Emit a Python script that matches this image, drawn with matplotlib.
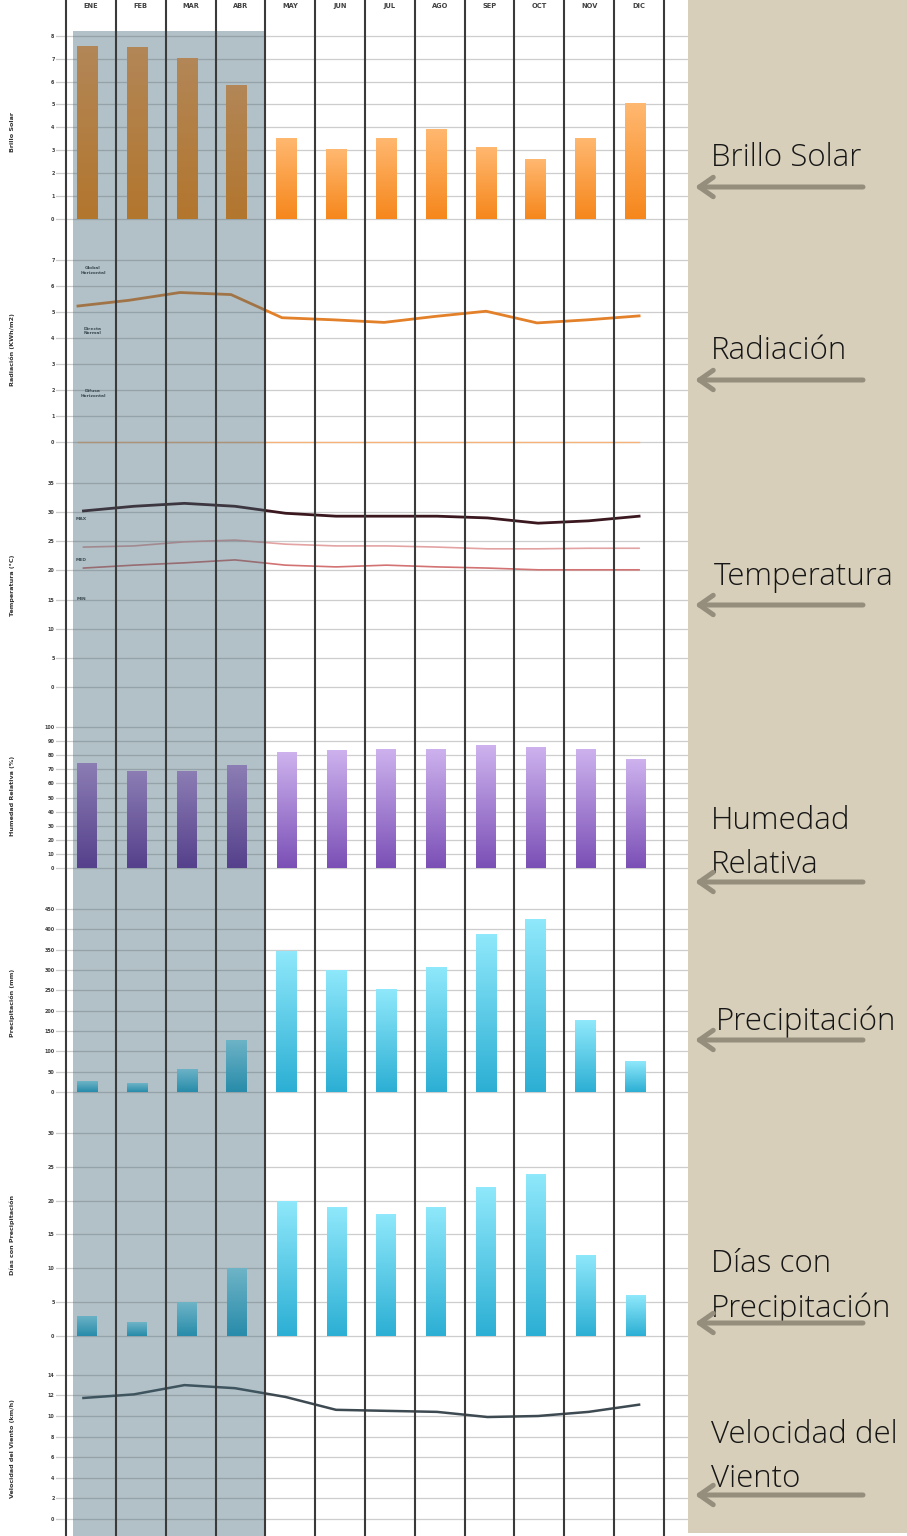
#Climograma mensual con paneles apilados y etiquetas a la derecha
import numpy as np
import matplotlib.pyplot as plt
from matplotlib.colors import LinearSegmentedColormap
from matplotlib.patches import Rectangle

W, H = 907, 1536

#datos
meses = ['ENE', 'FEB', 'MAR', 'ABR', 'MAY', 'JUN', 'JUL', 'AGO', 'SEP', 'OCT', 'NOV', 'DIC']
brillo = [7.55, 7.5, 7.05, 5.85, 3.55, 3.05, 3.55, 3.95, 3.15, 2.6, 3.55, 5.05]
rad_global = [5.23, 5.45, 5.75, 5.67, 4.78, 4.70, 4.60, 4.83, 5.03, 4.58, 4.70, 4.85]
rad_difusa = [0, 0, 0, 0, 0, 0, 0, 0, 0, 0, 0, 0]
t_max = [30.2, 31.0, 31.5, 31.0, 29.8, 29.3, 29.3, 29.3, 29.0, 28.1, 28.5, 29.3]
t_med = [24.0, 24.2, 24.9, 25.2, 24.5, 24.2, 24.2, 24.0, 23.7, 23.7, 23.8, 23.8]
t_min = [20.4, 20.9, 21.3, 21.8, 20.9, 20.6, 20.9, 20.6, 20.4, 20.1, 20.1, 20.1]
humedad = [74.5, 69, 69, 73, 82, 84, 84.5, 84.5, 87, 86, 84.5, 77]
precip = [27, 22, 57, 128, 347, 300, 253, 307, 388, 425, 177, 76]
dias = [3, 2, 5, 10, 20, 19, 18, 19, 22, 24, 12, 6]
viento = [11.75, 12.1, 13.0, 12.7, 11.85, 10.6, 10.5, 10.4, 9.9, 10.0, 10.4, 11.1]

etiquetas = ['Brillo Solar', 'Radiación', 'Temperatura', 'Humedad\nRelativa',
             'Precipitación', 'Días con\nPrecipitación', 'Velocidad del\nViento']

x = np.arange(12)
x_lin = np.linspace(-0.15, 11.0, 12)
x_rad = np.linspace(-0.26, 11.0, 12)
xb = x - 0.07
seca = 4  # meses sombreados (ENE-ABR)

COLW = 49.83
XL, XR = 56, 688
xlim = (-0.5 - (66 - XL) / COLW, 11.5 + (XR - 664) / COLW)

fig = plt.figure(figsize=(W / 100, H / 100), dpi=100)
fig.patch.set_facecolor('white')


def panel(top, bot, zero, ppu, ticks, label):
    ax = fig.add_axes([XL / W, 1 - bot / H, (XR - XL) / W, (bot - top) / H])
    ax.set_facecolor('none')
    ax.set_xlim(*xlim)
    ax.set_ylim((zero - bot) / ppu, (zero - top) / ppu)
    for s in ax.spines.values():
        s.set_visible(False)
    ax.set_xticks([])
    ax.set_yticks(ticks)
    ax.tick_params(axis='y', length=0, pad=1, labelsize=3.5, labelcolor='#404040')
    for t in ax.get_yticklabels():
        t.set_fontweight('bold')
    ax.grid(axis='y', color='#CDCDCD', lw=0.9)
    ax.set_axisbelow(True)
    ax.set_ylabel(label, fontsize=4.6, fontweight='bold', color='#333333')
    ax.yaxis.set_label_coords((15 - XL) / (XR - XL), 0.5)
    return ax


def grad_bars(ax, vals, col_humeda, col_seca, w=0.42):
    bars = ax.bar(xb, vals, width=w, color=col_humeda[1], zorder=2)
    lims = (ax.get_xlim(), ax.get_ylim())
    for i, b in enumerate(bars):
        c_top, c_bot = col_seca if i < seca else col_humeda
        cmap = LinearSegmentedColormap.from_list('g', [c_bot, c_top])
        bx, by = b.get_xy()
        im = ax.imshow(np.linspace(0, 1, 100).reshape(-1, 1), cmap=cmap, origin='lower',
                       extent=[bx, bx + b.get_width(), by, by + b.get_height()],
                       aspect='auto', zorder=2.1)
        im.set_clip_path(b)
    ax.set_xlim(lims[0])
    ax.set_ylim(lims[1])


# Brillo solar
ax1 = panel(31, 232, 219, 22.9, range(0, 9), 'Brillo Solar')
grad_bars(ax1, brillo, ('#FFB870', '#F6871C'), ('#FF9E45', '#FF8200'))

# Radiacion
ax2 = panel(245, 455, 442, 26.0, range(0, 8), 'Radiación (KWh/m2)')
ax2.plot(x_rad, rad_global, color='#E3802A', lw=2, zorder=3)
ax2.plot(x_rad, rad_difusa, color='#F5B27A', lw=1, zorder=3)
for yy, txt in [(6.58, 'Global\nHorizontal'), (4.27, 'Directa\nNormal'), (1.88, 'Difusa\nHorizontal')]:
    ax2.text(0.04, yy, txt, fontsize=3.2, fontweight='bold', color='#404040',
             ha='center', va='center', linespacing=1.3, zorder=4)

# Temperatura
ax3 = panel(470, 700, 687, 5.83, range(0, 36, 5), 'Temperatura (°C)')
ax3.plot(x_lin, t_max, color='#3B1820', lw=2, zorder=3)
ax3.plot(x_lin, t_med, color='#E3A3A3', lw=1.2, zorder=3)
ax3.plot(x_lin, t_min, color='#D27272', lw=1.2, zorder=3)
for yy, txt in [(28.8, 'MAX'), (21.8, 'MED'), (15.1, 'MIN')]:
    ax3.text(-0.2, yy, txt, fontsize=3.2, fontweight='bold', color='#404040',
             ha='center', va='center', zorder=4)

# Humedad relativa
ax4 = panel(712, 880, 868, 1.41, range(0, 101, 10), 'Humedad Relativa (%)')
grad_bars(ax4, humedad, ('#CDB2EE', '#7B50B6'), ('#C08EE0', '#642A9D'), w=0.40)

# Precipitacion
ax5 = panel(900, 1105, 1092, 0.4067, range(0, 451, 50), 'Precipitación (mm)')
grad_bars(ax5, precip, ('#8FE8FB', '#2CAFD4'), ('#8EE9FF', '#19A7CF'))

# Dias con precipitacion
ax6 = panel(1120, 1350, 1336, 6.77, range(0, 31, 5), 'Días con Precipitación')
grad_bars(ax6, dias, ('#8FE8FB', '#2CAFD4'), ('#8EE9FF', '#19A7CF'), w=0.40)

# Velocidad del viento
ax7 = panel(1365, 1533, 1519, 10.3, range(0, 15, 2), 'Velocidad del Viento (km/h)')
ax7.plot(x_lin, viento, color='#3E4A52', lw=1.8, zorder=3)

# marco: columnas de meses y sombreado de la temporada seca
fr = fig.add_axes([XL / W, 0, (XR - XL) / W, 1])
fr.set_facecolor('none')
fr.set_xlim(*xlim)
fr.set_ylim(H, 0)
fr.axis('off')
fr.set_zorder(5)
fr.vlines(np.arange(13) - 0.5, 0, H, color='#3A3A3A', lw=1.5)
fr.add_patch(Rectangle((-0.5 + 7 / COLW, 31), seca - 7 / COLW, H - 31,
                       color='#3F6473', alpha=0.4, lw=0))
for i, m in enumerate(meses):
    fr.text(x[i], 6, m, fontsize=4.8, fontweight='bold', color='#404040',
            ha='center', va='center')

# panel derecho con etiquetas
rp = fig.add_axes([XR / W, 0, (W - XR) / W, 1])
rp.set_xlim(XR, W)
rp.set_ylim(H, 0)
rp.axis('off')
rp.set_zorder(6)
rp.add_patch(Rectangle((XR, 0), W - XR, 1533, color='#D7CFBA', lw=0))

pos_txt = [(711, 166), (711, 359), (714, 585), (711, 873), (716, 1030), (711, 1317), (711, 1487)]
pos_flecha = [187, 380, 605, 882, 1040, 1323, 1495]
for (tx, ty), txt, fy in zip(pos_txt, etiquetas, pos_flecha):
    rp.text(tx, ty, txt, fontsize=22.5, family='Open Sans', fontweight='light',
            color='#161616', ha='left', va='baseline', linespacing=1.5)
    rp.annotate('', xy=(695, fy), xytext=(863, fy),
                arrowprops=dict(arrowstyle='->,head_length=1.0,head_width=0.7',
                                lw=3.6, color='#958E7D', capstyle='round',
                                joinstyle='round', shrinkA=0, shrinkB=0,
                                mutation_scale=10))

plt.savefig('out.png', dpi=100)
